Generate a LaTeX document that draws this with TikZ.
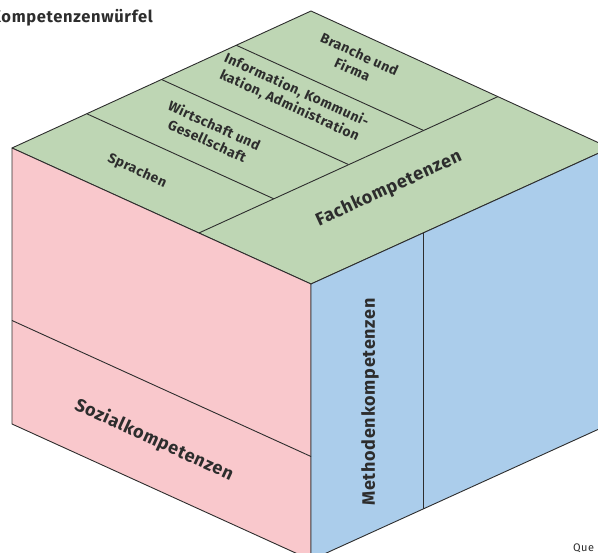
\documentclass[tikz,border=0pt]{standalone}
\usepackage{fontspec}
\setmainfont{Fira Sans}[LetterSpace=4]
\definecolor{topgreen}{RGB}{190,214,180}
\definecolor{leftpink}{RGB}{249,200,204}
\definecolor{rightblue}{RGB}{171,205,235}
\definecolor{edgegray}{RGB}{45,45,45}
\tikzset{
  facestyle/.style={draw=edgegray, line width=0.9pt, line join=round},
  divline/.style={draw=edgegray, line width=0.9pt},
  biglabel/.style={font=\bfseries\fontsize{18}{20}\selectfont, text=edgegray, align=center, inner sep=0pt},
  smalllabel/.style={font=\bfseries\fontsize{13.8}{17}\selectfont, text=edgegray, align=center, inner sep=0pt}
}
\begin{document}
\begin{tikzpicture}[x=1pt,y=-1pt]
            \useasboundingbox (0,0) rectangle (598,553);
            \clip (0,0) rectangle (598,553);
            
            % Corners of the cube
            \coordinate (lt) at (12.000000,148.000000);%
            \coordinate (tt) at (311.000000,11.000000);%
            \coordinate (rt) at (610.000000,148.000000);%
            \coordinate (ft) at (311.000000,284.000000);%
            \coordinate (lb) at (12.000000,424.000000);%
            \coordinate (fb) at (311.000000,560.000000);%
            \coordinate (rb) at (610.000000,424.000000);%
            
            % Drawing the three faces
            \filldraw [facestyle, fill=topgreen] (lt) -- (tt) -- (rt) -- (ft) -- cycle;%
            \filldraw [facestyle, fill=leftpink] (lt) -- (ft) -- (fb) -- (lb) -- cycle;%
            \filldraw [facestyle, fill=rightblue] (ft) -- (rt) -- (rb) -- (fb) -- cycle;%
            
            % Top face: line in front of the four strips
            \coordinate (fa) at (198.900000,233.000000);%
            \coordinate (fc) at (497.900000,96.600000);%
            \draw [divline] (fa) -- (fc);%
            
            % Top face: lines between the strips
            \coordinate (sa) at (86.750000,113.750000);%
            \coordinate (sb) at (273.650000,198.750000);%
            \coordinate (wa) at (161.500000,79.500000);%
            \coordinate (wb) at (348.400000,164.500000);%
            \coordinate (ia) at (236.250000,45.250000);%
            \coordinate (ib) at (423.150000,130.250000);%
            \draw [divline] (sa) -- (sb);%
            \draw [divline] (wa) -- (wb);%
            \draw [divline] (ia) -- (ib);%
            
            % Left face: line over the bottom strip
            \coordinate (za) at (12.000000,320.500000);%
            \coordinate (zb) at (311.000000,456.500000);%
            \draw [divline] (za) -- (zb);%
            
            % Right face: line beside the front strip
            \coordinate (ma) at (423.100000,232.600000);%
            \coordinate (mb) at (423.100000,508.600000);%
            \draw [divline] (ma) -- (mb);%
            
            % Labels of the top face
            \node [smalllabel, rotate=-24.6] (sprachen) at (137.000000,171.000000) {Sprachen};%
            \node [smalllabel, rotate=-24.6] (wirtschaft) at (211.000000,133.000000) {Wirtschaft und\\Gesellschaft};%
            \node [smalllabel, rotate=-24.6] (information) at (293.000000,98.000000) {Information, Kommuni-\\kation, Administration};%
            \node [smalllabel, rotate=-24.6] (branche) at (356.000000,62.000000) {Branche und\\Firma};%
            \node [biglabel, rotate=24.6] (fach) at (389.000000,189.000000) {Fachkompetenzen};%
            
            % Labels of the side faces
            \node [biglabel, rotate=-24.6] (sozial) at (154.000000,440.000000) {Sozialkompetenzen};%
            \node [biglabel, rotate=90] (methoden) at (370.000000,402.000000) {Methodenkompetenzen};%
            
            % Title and source
            \node [font=\bfseries\fontsize{16.5}{18}\selectfont, text=edgegray, anchor=base east, inner sep=0pt] (title) at (153.000000,23.000000) {Kompetenzenwürfel};%
            \node [font=\fontsize{11}{13}\selectfont, text=edgegray, anchor=north west, inner sep=0pt] (quelle) at (573.000000,544.000000) {Que};%
\end{tikzpicture}
\end{document}
